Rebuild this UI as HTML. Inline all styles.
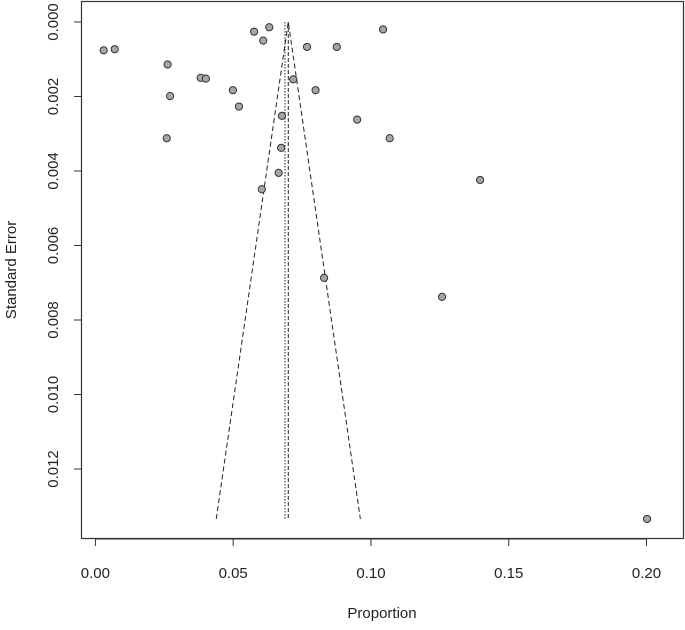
<!DOCTYPE html>
<html><head><meta charset="utf-8"><style>
body{margin:0;background:#fff}
svg text{font-family:"Liberation Sans",Arial,sans-serif;fill:#222}
</style></head><body>
<svg id="chart" width="685" height="625" viewBox="0 0 685 625" xmlns="http://www.w3.org/2000/svg">
<rect x="0" y="0" width="685" height="625" fill="#fff"/>
<rect x="81.5" y="1.5" width="602" height="537" fill="none" stroke="#333" stroke-width="1.2"/>
<g id="xaxis"></g>
<g id="yaxis"></g>
<g id="funnel"></g>
<g id="pts"></g>
<text x="382" y="618" text-anchor="middle" font-size="15">Proportion</text>
<text transform="translate(16,270) rotate(-90)" text-anchor="middle" font-size="15">Standard Error</text>
</svg>
<script>
const proportions=[0.0030,0.0070,0.0262,0.0271,0.0259,0.0382,0.0401,0.0499,0.0521,0.0576,0.0609,0.0631,0.0677,0.0674,0.0665,0.0604,0.0718,0.0768,0.0799,0.0876,0.0950,0.1044,0.1068,0.1396,0.1258,0.0830,0.2002];
const stdErrors=[0.00076,0.00073,0.00114,0.00199,0.00312,0.00150,0.00152,0.00183,0.00227,0.00026,0.00050,0.00014,0.00252,0.00338,0.00405,0.00449,0.00154,0.00067,0.00183,0.00067,0.00262,0.00020,0.00312,0.00424,0.00738,0.00687,0.01334];
const xTicks=[0,0.05,0.10,0.15,0.20];
const xTickLabels=["0.00","0.05","0.10","0.15","0.20"];
const yTicks=[0,0.002,0.004,0.006,0.008,0.010,0.012];
const yTickLabels=["0.000","0.002","0.004","0.006","0.008","0.010","0.012"];
const fixedEstimate=[0.0688];
const randomEstimate=[0.0700];
const maxSE=[0.01334];

const NS="http://www.w3.org/2000/svg";
const xs=v=>95.4+v*2755.5;
const ys=v=>22+v*37250;
function mk(tag,attrs,parent){const e=document.createElementNS(NS,tag);for(const k in attrs)e.setAttribute(k,attrs[k]);parent.appendChild(e);return e;}
const xa=document.getElementById('xaxis'),ya=document.getElementById('yaxis'),fn=document.getElementById('funnel'),pg=document.getElementById('pts');
xTicks.forEach((t,i)=>{
  const l=mk('line',{x1:xs(t),x2:xs(t),y1:539,y2:546,stroke:'#333'},xa);
  
  
  const tx=mk('text',{x:xs(t),y:578,'text-anchor':'middle','font-size':15},xa);
  tx.textContent=xTickLabels[i];
  
  
});
mk('line',{x1:xs(xTicks[0]),x2:xs(xTicks[xTicks.length-1]),y1:539,y2:539,stroke:'#333'},xa);
yTicks.forEach((t,i)=>{
  const l=mk('line',{x1:74,x2:81,y1:ys(t),y2:ys(t),stroke:'#333'},ya);
  
  
  const tx=mk('text',{transform:`translate(58,${ys(t)}) rotate(-90)`,'text-anchor':'middle','font-size':15},ya);
  tx.textContent=yTickLabels[i];
  
  
});
const c=randomEstimate[0],m=maxSE[0];
const fl=mk('polyline',{points:`${xs(c-1.96*m)},${ys(m)} ${xs(c)},${ys(0)} ${xs(c+1.96*m)},${ys(m)}`,fill:'none',stroke:'#222','stroke-dasharray':'5,3','stroke-width':1},fn);


const v1=mk('line',{x1:xs(fixedEstimate[0]),x2:xs(fixedEstimate[0]),y1:ys(0),y2:ys(m),stroke:'#222','stroke-dasharray':'1.5,1.5'},fn);


const v2=mk('line',{x1:xs(randomEstimate[0]),x2:xs(randomEstimate[0]),y1:ys(0),y2:ys(m),stroke:'#222','stroke-dasharray':'4,2'},fn);


proportions.forEach((p,i)=>{
  const ci=mk('circle',{cx:xs(p),cy:ys(stdErrors[i]),r:3.6,fill:'#a6a6a6',stroke:'#333','stroke-width':1},pg);
  
  
});
</script>
</body></html>
